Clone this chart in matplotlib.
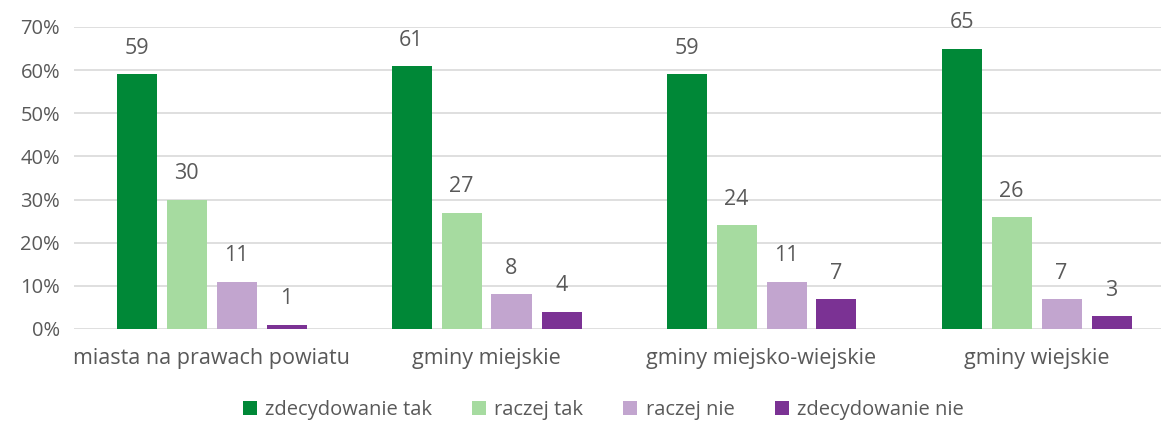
import numpy as np
import matplotlib.pyplot as plt
from matplotlib.ticker import PercentFormatter

categories = ["miasta na prawach powiatu", "gminy miejskie", "gminy miejsko-wiejskie", "gminy wiejskie"]
series_names = ["zdecydowanie tak", "raczej tak", "raczej nie", "zdecydowanie nie"]
zdecydowanie_tak = [59, 61, 59, 65]
raczej_tak = [30, 27, 24, 26]
raczej_nie = [11, 8, 11, 7]
zdecydowanie_nie = [1, 4, 7, 3]

colors = ["#008837", "#a6dba0", "#c2a5cf", "#7b3294"]
text_color = "#595959"

plt.rcParams['font.family'] = ['Open Sans', 'DejaVu Sans']

fig = plt.figure(figsize=(11.61, 4.24), dpi=100)
ax = fig.add_axes([74 / 1161, 95 / 424, 1087 / 1161, 302 / 424])

x = np.arange(len(categories))
width = 40 / 275
step = 50 / 275
all_series = [zdecydowanie_tak, raczej_tak, raczej_nie, zdecydowanie_nie]

for i, (name, vals) in enumerate(zip(series_names, all_series)):
    pos = x + (i - 1.5) * step
    bars = ax.bar(pos, np.array(vals) / 100, width, color=colors[i], label=name, zorder=3)
    for b, v in zip(bars, vals):
        ax.annotate(str(v), (b.get_x() + b.get_width() / 2, b.get_height()),
                    xytext=(0, 11), textcoords="offset points",
                    ha="center", va="bottom", fontsize=15.5, color=text_color)

ax.set_xlim(-0.5, -0.5 + 1087 / 275)
ax.set_ylim(0, 0.7)
ax.set_yticks(np.arange(0, 0.71, 0.1))
ax.yaxis.set_major_formatter(PercentFormatter(1.0, decimals=0))
ax.grid(axis="y", color="#d9d9d9", linewidth=1.2, zorder=0)
for s in ax.spines.values():
    s.set_visible(False)
ax.tick_params(axis="both", length=0, colors=text_color)
ax.tick_params(axis="y", pad=10, labelsize=14.5)
ax.tick_params(axis="x", pad=14, labelsize=15.5)
ax.set_xticks(x)
ax.set_xticklabels(categories)

fig.legend(loc="center", bbox_to_anchor=(603 / 1161, 1 - 410 / 424), ncol=4,
           frameon=False, fontsize=14.5, labelcolor=text_color,
           handlelength=0.7, handleheight=0.7, handletextpad=0.4, columnspacing=2.0)

fig.savefig("out.png", dpi=100)
